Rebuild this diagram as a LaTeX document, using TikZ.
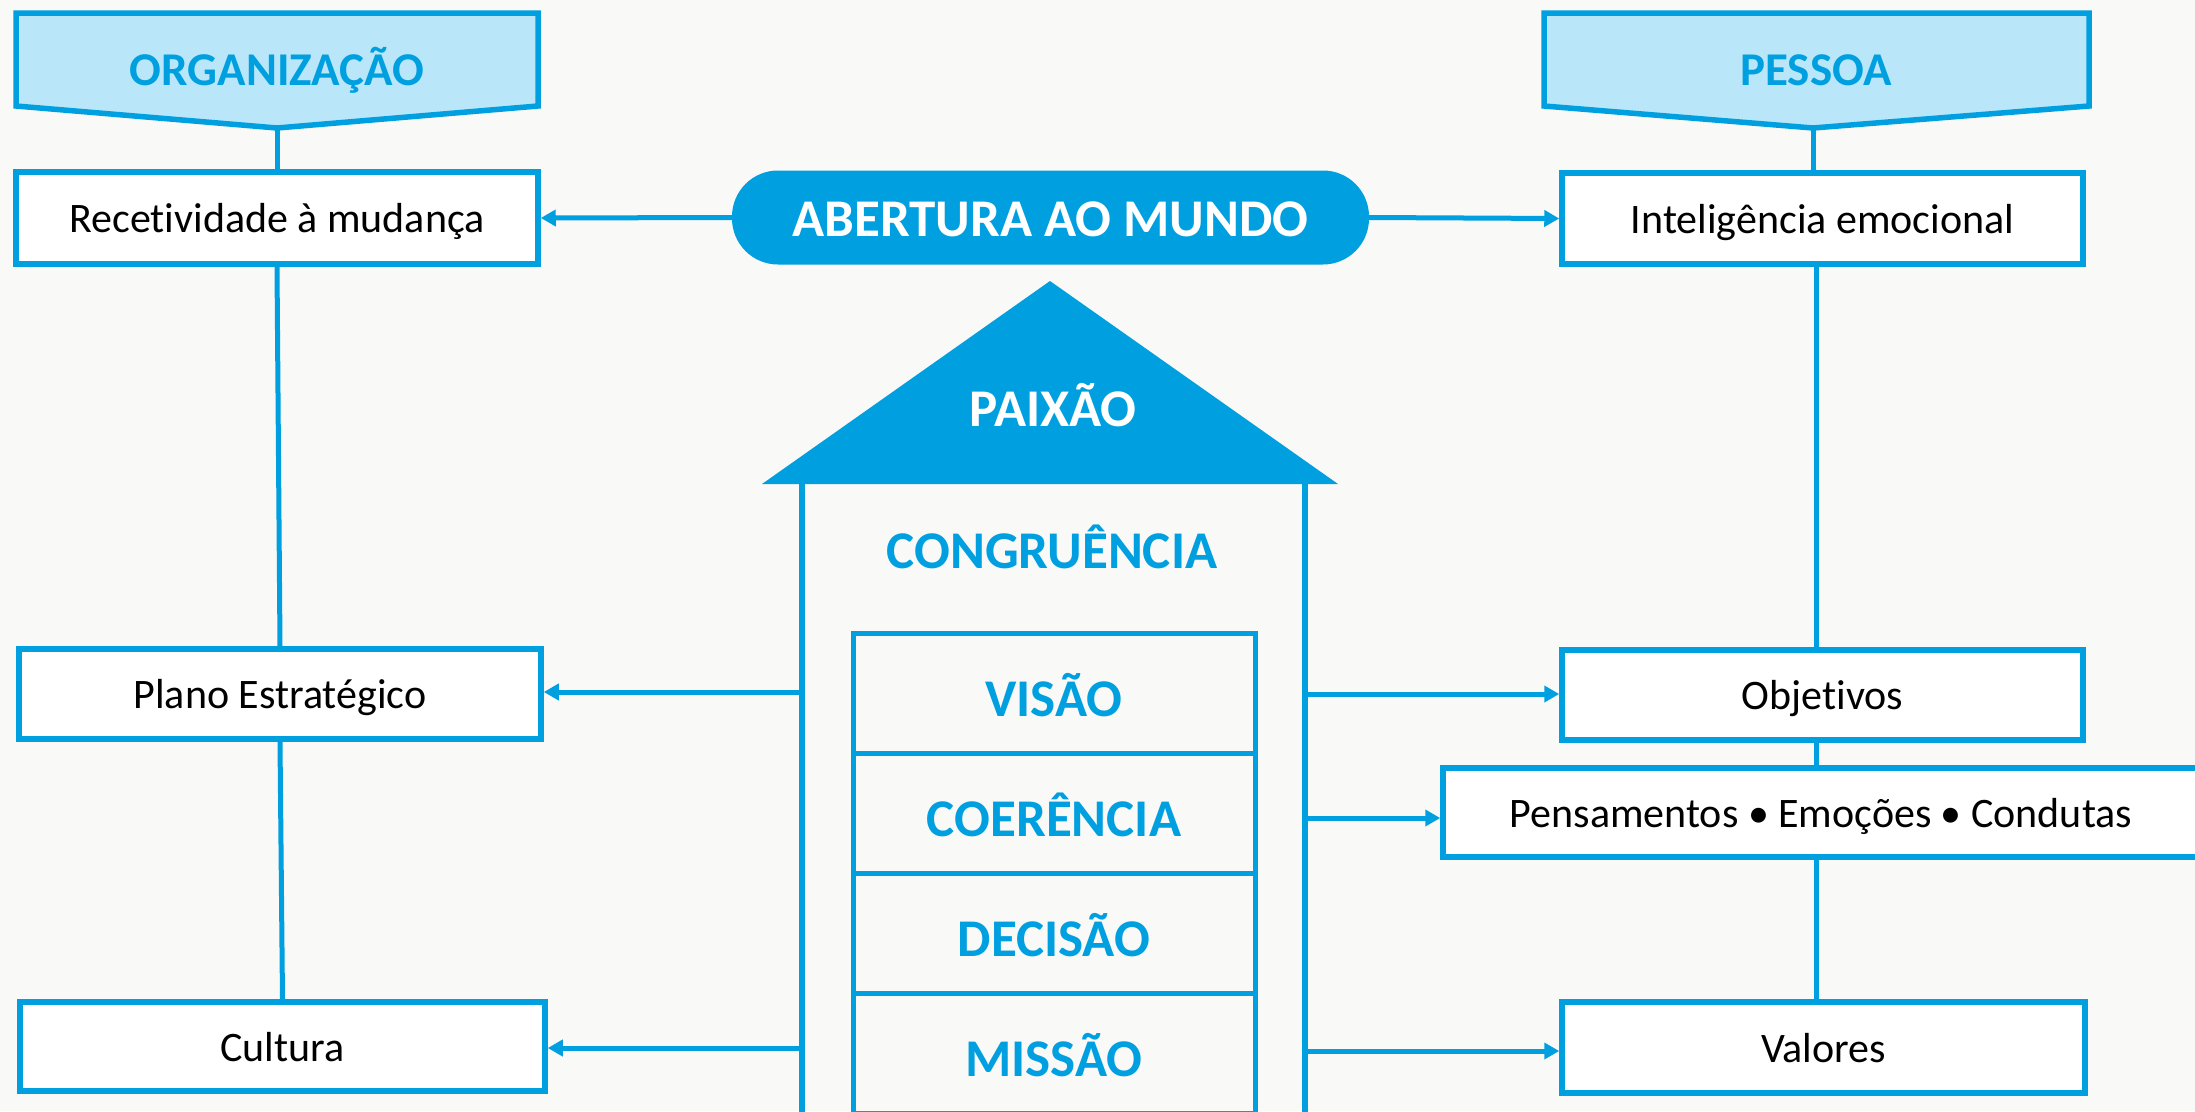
\documentclass[tikz,border=0pt]{standalone}
\usepackage{fontspec}
\setmainfont{Carlito}[Ligatures={NoCommon,NoContextual}]
\usetikzlibrary{arrows.meta,calc}
\definecolor{mblue}{RGB}{0,160,224}
\definecolor{lblue}{RGB}{185,231,249}
\definecolor{bgc}{RGB}{249,249,247}
\tikzset{
  wbox/.style={draw=mblue,line width=5.5pt,fill=white,inner sep=0pt,
    font=\fontsize{42pt}{50pt}\selectfont,text height=29pt,text depth=0pt,
    minimum height=90pt},
  cell/.style={draw=mblue,line width=5pt,inner sep=0pt,minimum width=402pt,minimum height=120pt,
    font=\bfseries\fontsize{53pt}{60pt}\selectfont,text=mblue,text height=46pt,text depth=0pt},
  conn/.style={draw=mblue,line width=5pt},
  arr/.style={conn,-{Triangle[length=15pt,width=16pt]}},
  headtxt/.style={anchor=base,inner sep=0pt,font=\bfseries\fontsize{47pt}{54pt}\selectfont,text=mblue},
  bigtxt/.style={anchor=base,inner sep=0pt,font=\bfseries\fontsize{53pt}{60pt}\selectfont}
}
\begin{document}
\begin{tikzpicture}[x=1pt,y=-1pt]
\fill[bgc] (0,0) rectangle (2195,1111);
\useasboundingbox (0,0) rectangle (2195,1111);
\clip (0,0) rectangle (2195,1111);

% header pentagons
\filldraw[fill=lblue,draw=mblue,line width=5.5pt,line join=miter]
  (16,13) -- (538,13) -- (538,106) -- (277,128) -- (16,106) -- cycle;
\coordinate (otip) at (277,128);
\node[headtxt] (org) at (277,85) {ORGANIZAÇÃO};
\filldraw[fill=lblue,draw=mblue,line width=5.5pt,line join=miter]
  (1544,13) -- (2089,13) -- (2089,106) -- (1813,128) -- (1544,106) -- cycle;
\coordinate (ptip) at (1813,128);
\node[headtxt] (pes) at (1816,85) {PESSOA};

% left boxes
\node[wbox,minimum width=522pt,minimum height=92pt] (rec) at (277,218) {Recetividade à mudança};
\node[wbox,minimum width=522pt,minimum height=90pt] (pla) at (280,694) {Plano Estratégico};
\node[wbox,minimum width=525pt,minimum height=89pt] (cul) at (282.5,1046.5) {Cultura};

% right boxes
\node[wbox,minimum width=521pt,minimum height=91pt] (int) at (1822.5,218.5) {Inteligência emocional};
\node[wbox,minimum width=521pt,minimum height=90pt] (obj) at (1822.5,695) {Objetivos};
\node[wbox,minimum width=756pt,minimum height=89pt] (pen) at (1821,812.5) {Pensamentos • Emoções • Condutas};
\node[wbox,minimum width=523pt,minimum height=91pt] (val) at (1823.5,1047.5) {Valores};

% pill
\node[fill=mblue,rounded corners=46pt,minimum width=637pt,minimum height=94pt,inner sep=0pt,
  text=white,font=\bfseries\fontsize{53pt}{60pt}\selectfont,text height=37pt,text depth=0pt]
  (pill) at (1050.5,217.5) {ABERTURA AO MUNDO};

% house
\fill[mblue] (762,484) -- (1050,281) -- (1338,484) -- cycle;
\node[bigtxt,text=white] (pai) at (1053,426) {PAIXÃO};
\draw[conn,line width=5.5pt] (802,484) -- (802,1130);
\draw[conn,line width=5.5pt] (1305,484) -- (1305,1130);
\node[bigtxt,text=mblue] (cong) at (1052,568) {CONGRUÊNCIA};

\node[cell] (vis) at (1054,693) {VISÃO};
\node[cell] (coe) at (1054,813) {COERÊNCIA};
\node[cell] (dec) at (1054,933) {DECISÃO};
\node[cell] (mis) at (1054,1053) {MISSÃO};

% wall coordinates
\coordinate (wl1) at (802,692);
\coordinate (wl2) at (802,1048);
\coordinate (wr1) at (1305,694);
\coordinate (wr2) at (1305,818);
\coordinate (wr3) at (1305,1051);

% connectors
\draw[arr] (pill.west) -- (rec.east);
\draw[arr] (pill.east) -- (int.west);
\draw[arr] (wl1) -- (wl1 -| pla.east);
\draw[arr] (wl2) -- (wl2 -| cul.east);
\draw[arr] (wr1) -- (wr1 -| obj.west);
\draw[arr] (wr2) -- (wr2 -| pen.west);
\draw[arr] (wr3) -- (wr3 -| val.west);

\draw[conn] (otip) -- (otip |- rec.north);
\draw[conn] (rec.south) -- (pla.north);
\draw[conn] (pla.south) -- (cul.north);

\coordinate (vx) at (1816,0);
\draw[conn] (ptip) -- (ptip |- int.north);
\draw[conn] (vx |- int.south) -- (vx |- obj.north);
\draw[conn] (vx |- obj.south) -- (vx |- pen.north);
\draw[conn] (vx |- pen.south) -- (vx |- val.north);
\end{tikzpicture}
\end{document}
